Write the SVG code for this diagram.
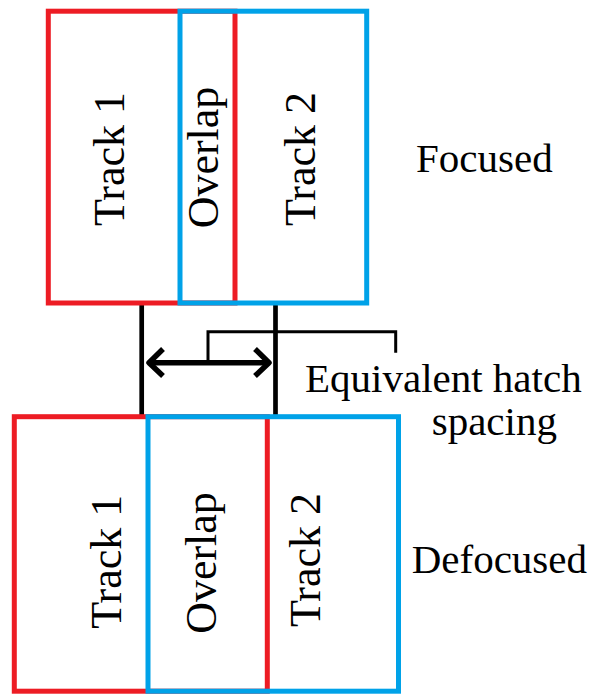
<svg xmlns="http://www.w3.org/2000/svg" width="590" height="694" viewBox="0 0 590 694">
<style>
.red{fill:none;stroke:#ED1C24;stroke-width:5}
.blue{fill:none;stroke:#00A2E8;stroke-width:5}
.lbl{font-size:41px;fill:#000}
.rot{font-size:44px;fill:#000;text-anchor:middle}
.conn{fill:none;stroke:#000;stroke-linecap:butt}
</style>
<rect width="590" height="694" fill="#fff"/>
<g id="connectors">
<line class="conn" x1="141.7" y1="304" x2="141.7" y2="416" stroke-width="4.7"/>
<line class="conn" x1="275.5" y1="304" x2="275.5" y2="416" stroke-width="4.7"/>
<polyline class="conn" points="208,362.7 208,331.7 395.7,331.7 395.7,352.7" stroke-width="3"/>
<line class="conn" x1="150" y1="362.7" x2="267" y2="362.7" stroke-width="5.5" stroke-linecap="round"/>
<polyline class="conn" points="163,349 149,362.7 163,376" stroke-width="5.5" stroke-linecap="round" stroke-linejoin="round"/>
<polyline class="conn" points="255,349 269,362.7 255,376" stroke-width="5.5" stroke-linecap="round" stroke-linejoin="round"/>
</g>
<g font-family="Liberation Serif, Times New Roman, serif">
<g id="focused-track1">
<rect class="red" x="48.3" y="11.2" width="186.7" height="291.8"/>
<text class="rot" transform="translate(124,159) rotate(-90)">Track 1</text>
</g>
<g id="focused-track2">
<rect class="blue" x="180" y="11.2" width="186.7" height="291.8"/>
<text class="rot" transform="translate(315,159) rotate(-90)">Track 2</text>
</g>
<g id="focused-overlap">
<text class="rot" transform="translate(218.3,157.5) rotate(-90)">Overlap</text>
</g>
<g id="defocused-track1">
<rect class="red" x="14.3" y="416.7" width="253" height="274.5"/>
<text class="rot" transform="translate(121,561.7) rotate(-90)">Track 1</text>
</g>
<g id="defocused-track2">
<rect class="blue" x="148" y="416.7" width="250.5" height="274.5"/>
<text class="rot" transform="translate(319.5,560) rotate(-90)">Track 2</text>
</g>
<g id="defocused-overlap">
<text class="rot" transform="translate(215.7,563) rotate(-90)">Overlap</text>
</g>
<g id="label-focused">
<text class="lbl" x="416" y="171.7">Focused</text>
</g>
<g id="label-hatch">
<text class="lbl" x="305" y="391.7">Equivalent hatch</text>
<text class="lbl" x="431.7" y="435">spacing</text>
</g>
<g id="label-defocused">
<text class="lbl" x="411.7" y="573.3">Defocused</text>
</g>
</g>
</svg>
